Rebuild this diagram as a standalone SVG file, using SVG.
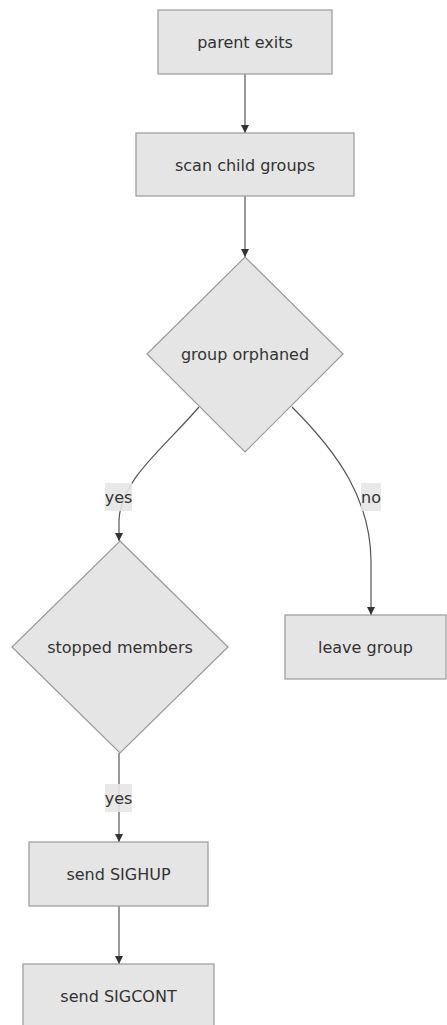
<svg xmlns="http://www.w3.org/2000/svg" width="447" height="1025" viewBox="0 0 447 1025">
  <style>
    .node rect, .node polygon { fill: #e5e5e5; stroke: #999; stroke-width: 1.2; }
    .node text { font-family: "DejaVu Sans", Verdana, sans-serif; font-size: 16px; fill: #333; text-anchor: middle; dominant-baseline: central; }
    .edge { fill: none; stroke: #555; stroke-width: 1.2; marker-end: url(#arrow); }
    .elabel rect { fill: #e5e5e5; opacity: 0.9; }
    .elabel text { font-family: "DejaVu Sans", Verdana, sans-serif; font-size: 16px; fill: #333; text-anchor: middle; dominant-baseline: central; }
  </style>
  <defs>
    <marker id="arrow" viewBox="0 0 10 10" refX="10" refY="5" markerWidth="8" markerHeight="8" markerUnits="userSpaceOnUse" orient="auto">
      <path d="M0,0 L10,5 L0,10 z" fill="#333"/>
    </marker>
  </defs>
  <rect width="447" height="1025" fill="#fff"/>

  <g id="connectors">
    <path class="edge" d="M245,74 L245,133"/>
    <path class="edge" d="M245,196 L245,257"/>
    <path class="edge" d="M199,407 C160,452 121,480 119,520 L119,541"/>
    <path class="edge" d="M292,407 C340,455 370,500 371,560 L371,615"/>
    <path class="edge" d="M119,753 L119,842"/>
    <path class="edge" d="M119,906 L119,964"/>
    <g class="elabel">
      <rect x="105" y="483" width="27" height="28"/>
      <text x="118.5" y="497">yes</text>
    </g>
    <g class="elabel">
      <rect x="361" y="483" width="20" height="28"/>
      <text x="371" y="497">no</text>
    </g>
    <g class="elabel">
      <rect x="105" y="784" width="27" height="28"/>
      <text x="118.5" y="798">yes</text>
    </g>
  </g>

  <g id="parent-exits" class="node">
    <rect x="158" y="10" width="174" height="64"/>
    <text x="245" y="42">parent exits</text>
  </g>
  <g id="scan-child-groups" class="node">
    <rect x="136" y="133" width="218" height="63"/>
    <text x="245" y="165">scan child groups</text>
  </g>
  <g id="group-orphaned" class="node">
    <polygon points="245,257 343,354 245,452 147,354"/>
    <text x="245" y="354">group orphaned</text>
  </g>
  <g id="stopped-members" class="node">
    <polygon points="120,541 228,647 120,753 12,647"/>
    <text x="120" y="647">stopped members</text>
  </g>
  <g id="leave-group" class="node">
    <rect x="285" y="615" width="161" height="64"/>
    <text x="365.5" y="647">leave group</text>
  </g>
  <g id="send-sighup" class="node">
    <rect x="29" y="842" width="179" height="64"/>
    <text x="118.5" y="874">send SIGHUP</text>
  </g>
  <g id="send-sigcont" class="node">
    <rect x="23" y="964" width="191" height="64"/>
    <text x="118.5" y="996">send SIGCONT</text>
  </g>
</svg>
